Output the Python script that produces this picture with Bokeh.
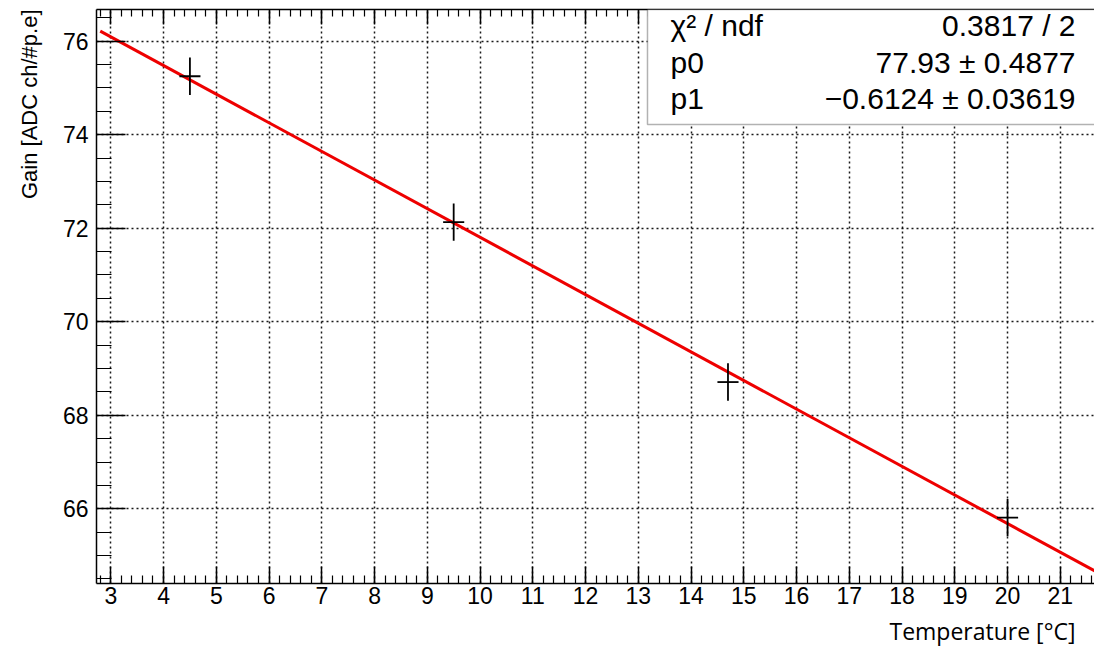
from bokeh.plotting import figure
from bokeh.models import (ColumnDataSource, SingleIntervalTicker, LinearAxis,
                          BoxAnnotation, Range1d, Title, CustomJSTickFormatter)
from bokeh.core.properties import value
from bokeh.embed import file_html
from bokeh.resources import INLINE

# ---- data ----
temperature = [4.5, 9.5, 14.7, 20.0]
gain = [75.25, 72.13, 68.71, 65.81]
temperature_err = [0.2, 0.2, 0.2, 0.2]
gain_err = [0.4, 0.4, 0.4, 0.4]

fit_p0 = 77.93
fit_p1 = -0.6124
fit_range = [2.8, 21.7]

stat_names = ["χ² / ndf", "p0", "p1"]
stat_values = ["0.3817 / 2", "77.93 ± 0.4877", "−0.6124 ± 0.03619"]

x_label = "Temperature [°C]"
y_label = "Gain [ADC ch/#p.e]"

# ---- layout constants ----
X_RANGE = (2.729, 21.648)
Y_RANGE = (64.402, 76.678)
STAT_BOX_LEFT = 13.174
STAT_BOX_BOTTOM = 74.219
STAT_TEXT_LEFT = 13.61
STAT_TEXT_RIGHT = 21.288
STAT_ROWS_Y = [76.336, 75.545, 74.775]

ROOT_FONT = "Liberation Sans"

p = figure(width=1094, height=652,
           x_range=Range1d(*X_RANGE), y_range=Range1d(*Y_RANGE),
           output_backend="svg", toolbar_location=None,
           min_border_left=96, min_border_right=0,
           min_border_top=9, min_border_bottom=69)
p.outline_line_color = None
p.background_fill_color = "white"
p.border_fill_color = "white"

xt = SingleIntervalTicker(interval=1, num_minor_ticks=5)
yt = SingleIntervalTicker(interval=2, num_minor_ticks=4)

xa = p.xaxis[0]
ya = p.yaxis[0]
xa.ticker = xt
ya.ticker = yt
p.xgrid[0].ticker = xt
p.ygrid[0].ticker = yt

for ax in (xa, ya):
    ax.axis_line_width = 1.5
    ax.axis_line_color = "black"
    ax.major_tick_line_width = 1.5
    ax.minor_tick_line_width = 1.2
    ax.major_tick_line_color = "black"
    ax.minor_tick_line_color = "black"
    ax.major_tick_out = 0
    ax.minor_tick_out = 0
    ax.major_label_text_font = ROOT_FONT
    ax.major_label_text_font_size = "23px"
    ax.major_label_text_color = "black"

xa.major_tick_in = 17
xa.minor_tick_in = 8
xa.major_label_standoff = 3
ya.major_tick_in = 29
ya.minor_tick_in = 15
ya.major_label_standoff = 8

top = LinearAxis(ticker=xt, major_tick_in=15, minor_tick_in=7,
                 major_tick_out=0, minor_tick_out=0,
                 formatter=CustomJSTickFormatter(code="return ''"),
                 major_label_standoff=0,
                 axis_line_width=1.5, major_tick_line_width=1.5,
                 minor_tick_line_width=1.2)
p.add_layout(top, "above")

# axis titles (ROOT style: aligned to the axis end)
xtitle = Title(text=x_label, align="right", vertical_align="bottom",
               text_font="Open Sans", text_font_size="23px",
               text_font_style="normal", text_color="black", offset=19)
ytitle = Title(text=y_label, align="right", vertical_align="top",
               text_font=ROOT_FONT, text_font_size="22px",
               text_font_style="normal", text_color="black", offset=0)
try:
    xtitle.standoff = 12
    ytitle.standoff = 31
except Exception:
    pass
p.add_layout(xtitle, "below")
p.add_layout(ytitle, "left")

for g in (p.xgrid[0], p.ygrid[0]):
    g.grid_line_color = "black"
    g.grid_line_dash = "2 3"
    g.grid_line_width = 1.5
    g.grid_line_alpha = 0.9

# fit line
fit_y = [fit_p0 + fit_p1 * x for x in fit_range]
p.line(fit_range, fit_y, line_color="#ee0000", line_width=3)

# data points with error bars
src = ColumnDataSource(dict(
    x=temperature, y=gain,
    xl=[t - e for t, e in zip(temperature, temperature_err)],
    xr=[t + e for t, e in zip(temperature, temperature_err)],
    yl=[g - e for g, e in zip(gain, gain_err)],
    yh=[g + e for g, e in zip(gain, gain_err)],
))
p.segment(x0="xl", y0="y", x1="xr", y1="y", source=src,
          line_color="black", line_width=1.8)
p.segment(x0="x", y0="yl", x1="x", y1="yh", source=src,
          line_color="black", line_width=1.8)

# stats box
box = BoxAnnotation(left=STAT_BOX_LEFT, right=30, bottom=STAT_BOX_BOTTOM,
                    fill_color="white", fill_alpha=1.0,
                    line_color="black", line_width=1.5)
p.add_layout(box)

p.text(x=[STAT_TEXT_LEFT] * 3, y=STAT_ROWS_Y, text=stat_names,
       text_font=value(ROOT_FONT), text_font_size="30px",
       text_baseline="alphabetic", text_align="left", text_color="black",
       level="overlay")
p.text(x=[STAT_TEXT_RIGHT] * 3, y=STAT_ROWS_Y, text=stat_values,
       text_font=value(ROOT_FONT), text_font_size="30px",
       text_baseline="alphabetic", text_align="right", text_color="black",
       level="overlay")

open("out.html", "w").write(file_html(p, INLINE))
